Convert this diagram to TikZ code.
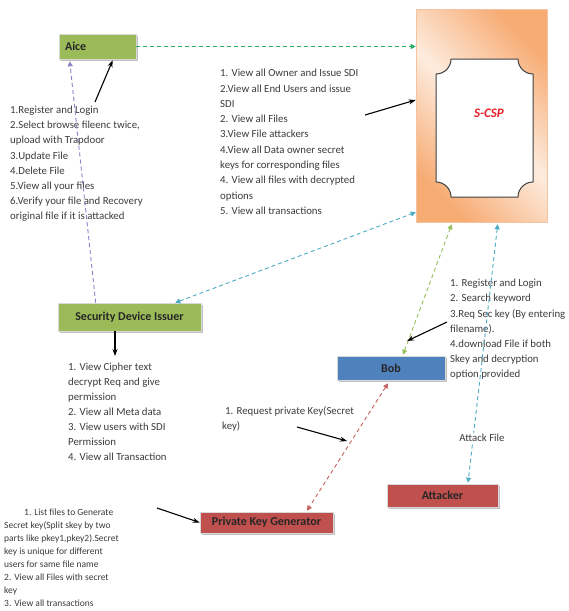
\documentclass[tikz,border=0pt]{standalone}
\usepackage{fontspec}
\setmainfont{Carlito}
\usetikzlibrary{arrows.meta,shadows}
\definecolor{boxgreen}{HTML}{9BBB59}
\definecolor{boxblue}{HTML}{4F81BD}
\definecolor{boxred}{HTML}{C0504D}
\definecolor{dkgreen}{RGB}{40,170,100}
\definecolor{ltgreen}{RGB}{150,190,90}
\definecolor{lavender}{RGB}{140,130,200}
\definecolor{teal}{RGB}{75,172,198}
\definecolor{orDark}{RGB}{247,172,116}
\definecolor{orLight}{RGB}{253,236,222}
\definecolor{orBorder}{RGB}{245,195,160}
\definecolor{txtgray}{RGB}{60,60,60}
\pgfdeclarehorizontalshading{scspshade}{100bp}{color(0bp)=(orDark); color(25bp)=(orDark); color(50bp)=(orLight); color(75bp)=(orDark); color(100bp)=(orDark)}
\tikzset{
  txt/.style={anchor=north west, align=left, inner sep=0pt, text=txtgray, font=\fontsize{10.8}{15.1}\selectfont},
  smalltxt/.style={txt, font=\fontsize{9.5}{12.9}\selectfont},
  boxbase/.style={draw=white!85!black, line width=0.6pt, inner sep=0pt, font=\bfseries\fontsize{12}{14}\selectfont, text=black!85,
    drop shadow={shadow xshift=2pt, shadow yshift=-2pt, fill=black!35, opacity=0.7}},
  greenbox/.style={boxbase, fill=boxgreen},
  bluebox/.style={boxbase, fill=boxblue},
  redbox/.style={boxbase, fill=boxred},
  dashy/.style={line width=0.9pt, dash pattern=on 4pt off 3pt},
  blackarrow/.style={line width=1.1pt, -{Stealth[length=7pt,width=5pt]}},
}
\begin{document}
\begin{tikzpicture}[x=1pt,y=-1pt, >={Triangle[length=5pt,width=5pt]}]
\useasboundingbox[fill=white] (0,0) rectangle (569,611);

% S-CSP
\node[draw=orBorder, line width=0.6pt, shading=scspshade, shading angle=45, minimum width=131pt, minimum height=213pt, inner sep=0pt] (scsp) at (481.5,115.5) {};
\draw[fill=white, draw=black!75, line width=1pt]
  (451,59) -- (518,59) arc[start angle=180, end angle=90, radius=15]
  -- (533,182) arc[start angle=270, end angle=180, radius=15]
  -- (451,197) arc[start angle=0, end angle=-90, radius=15]
  -- (436,74) arc[start angle=90, end angle=0, radius=15] -- cycle;
\node[font=\bfseries\itshape\fontsize{13}{15}\selectfont, text={rgb,255:red,230;green,30;blue,40}] (scsplabel) at (489,113) {S-CSP};

% boxes
\node[greenbox, minimum width=77pt, minimum height=25pt, align=left, text width=65pt] (alice) at (97.5,46.5) {Aice};
\node[greenbox, minimum width=143pt, minimum height=28pt] (sdi) at (129.5,317) {Security Device Issuer};
\node[bluebox, minimum width=108pt, minimum height=24pt] (bob) at (391,368) {Bob};
\node[redbox, minimum width=111pt, minimum height=23pt] (attacker) at (442.5,495.5) {Attacker};
\node[redbox, minimum width=133pt, minimum height=21pt] (pkg) at (266.5,522.5) {Private Key Generator};

% texts
\node[txt] (alicetxt) at (10,106) {1.Register and Login\\2.Select browse fileenc twice,\\upload with Trapdoor\\3.Update File\\4.Delete File\\5.View all your files\\6.Verify your file and Recovery\\original file if it is attacked};
\node[txt, font=\fontsize{10.8}{15.3}\selectfont] (scsptxt) at (220,69) {1. View all Owner and Issue SDI\\2.View all End Users and issue\\SDI\\2. View all Files\\3.View File attackers\\4.View all Data owner secret\\keys for corresponding files\\4. View all files with decrypted\\options\\5. View all transactions};
\node[txt, font=\fontsize{10.8}{15}\selectfont] (sditxt) at (68,363) {1. View Cipher text\\decrypt Req and give\\permission\\2. View all Meta data\\3. View users with SDI\\Permission\\4. View all Transaction};
\node[txt, font=\fontsize{10.8}{15.2}\selectfont] (bobtxt) at (450,279) {1. Register and Login\\2. Search keyword\\3.Req Sec key (By entering\\filename).\\4.download File if both\\Skey and decryption\\option provided};
\node[txt, font=\fontsize{10.8}{15}\selectfont] (reqtxt) at (222,406) {\hspace{3pt}1. Request private Key(Secret\\key)};
\node[smalltxt] (pkgtxt) at (4,509) {\hspace{20pt}1. List files to Generate\\Secret key(Split skey by two\\parts like pkey1,pkey2).Secret\\key is unique for different\\users for same file name\\2. View all Files with secret\\key\\3. View all transactions};

% free ends of black arrows
\coordinate (a1) at (95,102);
\coordinate (a2) at (365,115);
\coordinate (a3) at (115,356);
\coordinate (a4s) at (447,322);
\coordinate (a4e) at (407,341);
\coordinate (a5s) at (297,427);
\coordinate (a5e) at (347,441);
\coordinate (a6) at (157,508);

% dashed connectors
\draw[dashy, draw=dkgreen, ->] (alice.east) -- (alice.east -| scsp.west);
\draw[dashy, draw=lavender, ->] ([xshift=38pt]sdi.north west) -- ([xshift=11pt,yshift=-2pt]alice.south west);
\draw[dashy, draw=teal, <->] ([xshift=-26pt]sdi.north east) -- ([yshift=10pt]scsp.south west);
\draw[dashy, draw=ltgreen, <->] ([xshift=12pt,yshift=1pt]bob.north) -- ([xshift=36pt,yshift=-2pt]scsp.south west);
\draw[dashy, draw=teal, <->] ([xshift=82pt,yshift=-2pt]scsp.south west) -- ([xshift=25.5pt,yshift=1pt]attacker.north);
\draw[dashy, draw=boxred!90, <->] ([xshift=-3pt,yshift=-3pt]bob.south) -- ([xshift=40.5pt,yshift=1pt]pkg.north);
\node[fill=white, inner sep=1pt, text=txtgray, font=\fontsize{10.8}{12}\selectfont] (attacklbl) at (482,438) {Attack File};

% black arrows
\draw[blackarrow] (a1) -- ([xshift=54pt,yshift=-1pt]alice.south west);
\draw[blackarrow] (a2) -- ([yshift=15.5pt]scsp.west);
\draw[blackarrow] ([xshift=-14.5pt]sdi.south) -- (a3);
\draw[blackarrow] (a4s) -- (a4e);
\draw[blackarrow] (a5s) -- (a5e);
\draw[blackarrow] (a6) -- (pkg.west);
\end{tikzpicture}
\end{document}
